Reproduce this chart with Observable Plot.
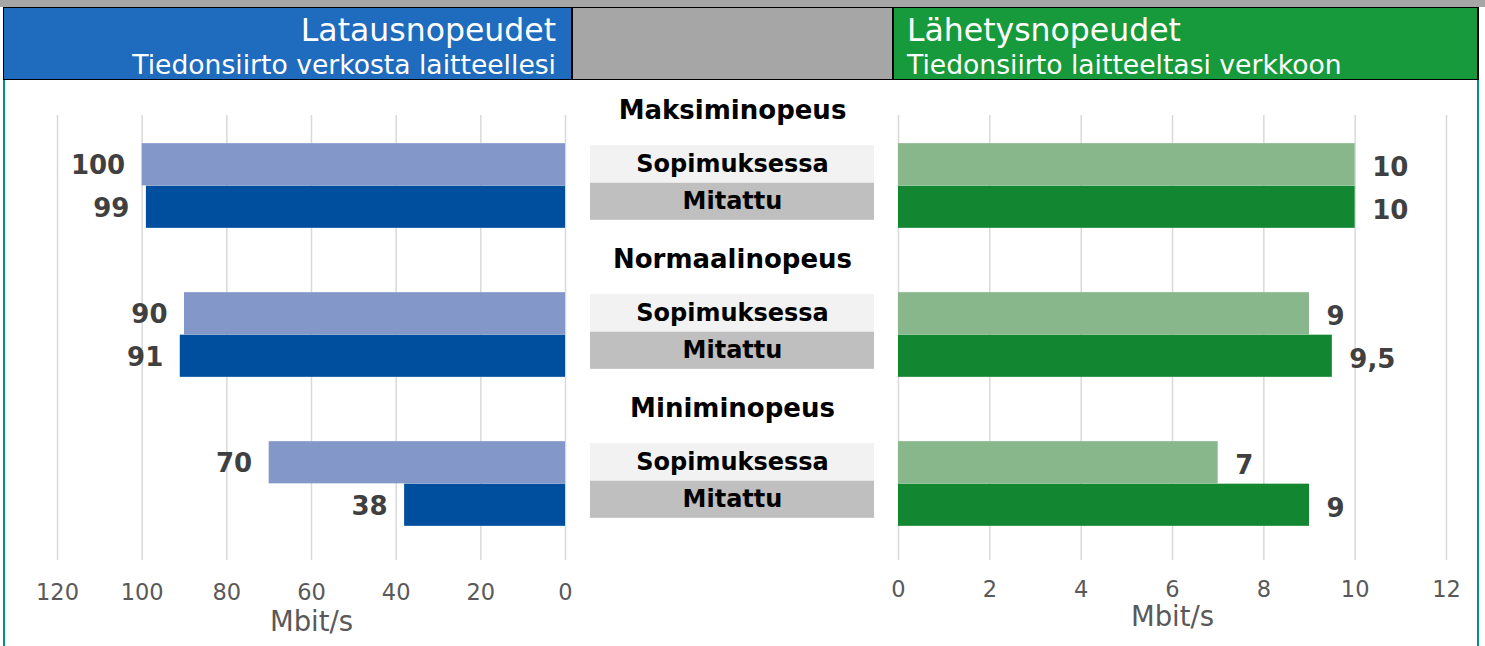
<!DOCTYPE html>
<html><head><meta charset="utf-8">
<script src="https://cdn.jsdelivr.net/npm/d3@7"></script>
<script src="https://cdn.jsdelivr.net/npm/@observablehq/plot@0.6"></script>
<style>
body{margin:0;background:#fff;font-family:"DejaVu Sans",Verdana,sans-serif;}
#page{position:relative;width:1485px;height:646px;overflow:hidden;background:#fff;}
.abs{position:absolute;}
.t1{position:absolute;font-size:31.5px;line-height:31px;white-space:nowrap;}
.t2{position:absolute;font-size:26.6px;line-height:26px;white-space:nowrap;}
</style></head><body><div id="page">
<div class="abs" style="left:0;top:0;width:1485px;height:7px;background:#a6a6a6"></div>
<div class="abs" style="left:3px;top:7px;width:1476px;height:73px;background:#000"></div>
<div class="abs" id="hL" style="left:4px;top:8px;width:567px;height:71px;background:#1f6bbd;color:#fff;"></div>
<div class="abs" style="left:573px;top:8px;width:319px;height:71px;background:#a6a6a6;"></div>
<div class="abs" id="hR" style="left:894px;top:8px;width:583px;height:71px;background:#179a3b;color:#fff;"></div>
<div class="abs" id="pL" style="left:0;top:80px;"></div>
<div class="abs" id="pM" style="left:580px;top:80px;"></div>
<div class="abs" id="pR" style="left:880px;top:80px;"></div>
<div class="abs" style="left:3px;top:80px;width:2px;height:566px;background:#00918f;z-index:5"></div>
<div class="abs" style="left:1477px;top:80px;width:2px;height:566px;background:#00918f;z-index:5"></div>
</div>
<script>
// ---- data ----
const headerDown = ["Latausnopeudet", "Tiedonsiirto verkosta laitteellesi"];
const headerUp = ["Lähetysnopeudet", "Tiedonsiirto laitteeltasi verkkoon"];
const groups = ["Maksiminopeus", "Normaalinopeus", "Miniminopeus"];
const types = ["Sopimuksessa", "Mitattu"];
const downContract = [100, 90, 70];
const downMeasured = [99, 91, 38];
const upContract = [10, 9, 7];
const upMeasured = [10, 9.5, 9];
const downTicks = [0, 20, 40, 60, 80, 100, 120];
const upTicks = [0, 2, 4, 6, 8, 10, 12];
const unitLabel = "Mbit/s";

// ---- header ----
const hL = document.getElementById("hL"), hR = document.getElementById("hR");
hL.innerHTML = `<div class="t1" style="right:15px;top:7px">${headerDown[0]}</div><div class="t2" style="right:15px;top:44px">${headerDown[1]}</div>`;
hR.innerHTML = `<div class="t1" style="left:13px;top:7px">${headerUp[0]}</div><div class="t2" style="left:13px;top:44px">${headerUp[1]}</div>`;

const rows = (contract, measured) => groups.flatMap((g, i) => [
  {group: g, type: types[0], value: contract[i]},
  {group: g, type: types[1], value: measured[i]}
]);
const down = rows(downContract, downMeasured);
const up = rows(upContract, upMeasured);
const fmt = d => String(d.value).replace(".", ",");

const FONT = "'DejaVu Sans', Verdana, sans-serif";
const H = 566, Y0 = 30, Y1 = 478;
const half = (Y1 - Y0) / groups.length / 2;
const barH = 42.5;
const isS = d => d.type === types[0];
const isM = d => d.type === types[1];
const yScale = {domain: groups, range: [Y0, Y1], padding: 0, axis: null};
const grid = "#d9d9d9", axisCol = "#595959", valCol = "#404040";

function side(data, ticks, opts) {
  const left = opts.left;
  return Plot.plot({
    width: opts.width, height: H,
    marginLeft: opts.ml, marginRight: opts.mr, marginTop: 35, marginBottom: 86,
    x: {domain: [ticks[0], ticks[ticks.length - 1]], reverse: left},
    y: yScale,
    style: {fontFamily: FONT, fontSize: "22.5px", background: "transparent", overflow: "visible"},
    marks: [
      Plot.ruleX(ticks, {stroke: grid, strokeWidth: 1.5}),
      Plot.barX(data.filter(isS), {x: "value", y: "group", fill: opts.light, insetTop: half - barH, insetBottom: half}),
      Plot.barX(data.filter(isM), {x: "value", y: "group", fill: opts.dark, insetTop: half, insetBottom: half - barH}),
      Plot.text(data.filter(isS), {x: "value", y: "group", dy: -barH / 2 + opts.vdy, text: fmt,
        textAnchor: left ? "end" : "start", dx: left ? -17 : 17, fontSize: 26, fontWeight: "bold", fill: valCol}),
      Plot.text(data.filter(isM), {x: "value", y: "group", dy: barH / 2 + opts.vdy, text: fmt,
        textAnchor: left ? "end" : "start", dx: left ? -17 : 17, fontSize: 26, fontWeight: "bold", fill: valCol}),
      Plot.axisX(ticks, {anchor: "bottom", tickSize: 0, tickPadding: opts.tp, fontSize: 22.5, color: axisCol, label: null}),
      Plot.text([unitLabel], {frameAnchor: "bottom", lineAnchor: "middle", dy: opts.ldy, fontSize: 27.5, fill: axisCol})
    ]
  });
}

document.getElementById("pL").append(side(down, downTicks,
  {left: true, width: 580, ml: 57, mr: 15, light: "#8497c9", dark: "#004f9f", tp: 24, ldy: 62, vdy: 1}));
document.getElementById("pR").append(side(up, upTicks,
  {left: false, width: 605, ml: 18, mr: 39, light: "#88b78b", dark: "#138632", tp: 21, ldy: 57, vdy: 3}));

const mid = Plot.plot({
  width: 300, height: H, marginLeft: 10, marginRight: 6, marginTop: 35, marginBottom: 86,
  x: {domain: [0, 1], axis: null},
  y: yScale,
  style: {fontFamily: FONT, background: "transparent", overflow: "visible"},
  marks: [
    Plot.barX(groups, {x1: 0, x2: 1, y: d => d, fill: "#f2f2f2", insetTop: half - 40.5, insetBottom: half + 3}),
    Plot.barX(groups, {x1: 0, x2: 1, y: d => d, fill: "#bfbfbf", insetTop: half - 3, insetBottom: half - 34.5}),
    Plot.text(groups, {y: d => d, text: d => d, dy: -75, fontSize: 26, fontWeight: "bold", fill: "#000"}),
    Plot.text(groups, {y: d => d, text: () => types[0], dy: -22, fontSize: 24, fontWeight: "bold", fill: "#000"}),
    Plot.text(groups, {y: d => d, text: () => types[1], dy: 15, fontSize: 24, fontWeight: "bold", fill: "#000"})
  ]
});
document.getElementById("pM").append(mid);
</script></body></html>
